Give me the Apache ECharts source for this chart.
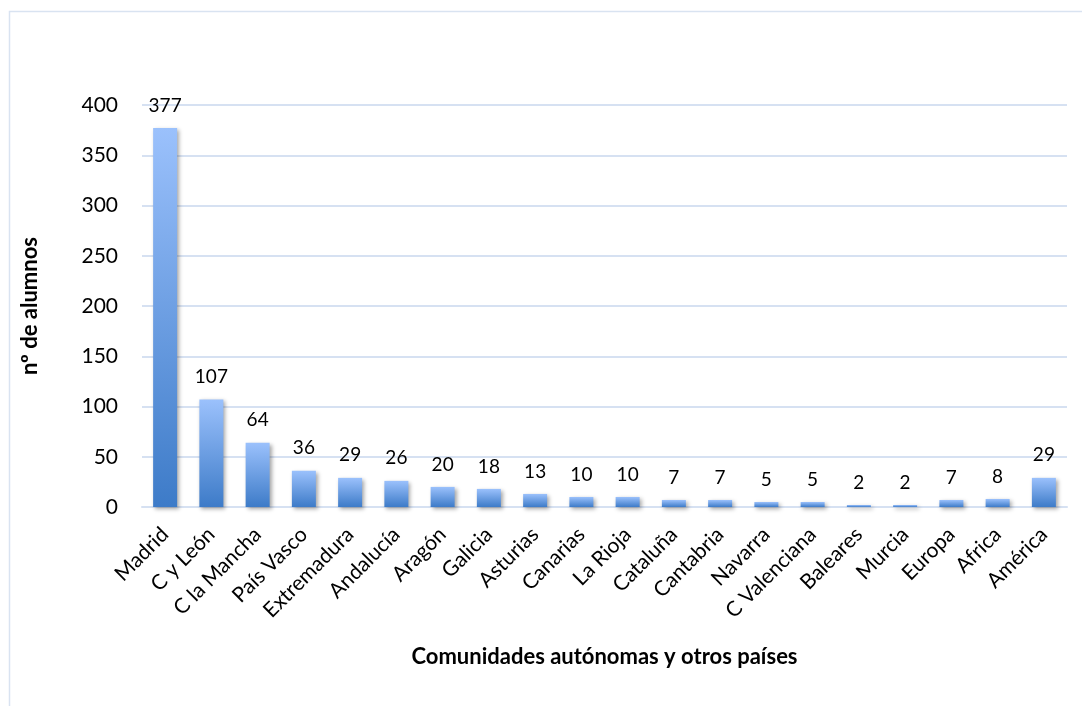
<!DOCTYPE html>
<html>
<head>
<meta charset="utf-8">
<script src="https://cdn.jsdelivr.net/npm/echarts@6/dist/echarts.min.js"></script>
<style>
html,body{margin:0;padding:0;background:#fff;}
#chart{width:1082px;height:706px;}
</style>
</head>
<body>
<div id="chart"></div>
<script>
const categories = ['Madrid','C y León','C la Mancha','País Vasco','Extremadura','Andalucía','Aragón','Galicia','Asturias','Canarias','La Rioja','Cataluña','Cantabria','Navarra','C Valenciana','Baleares','Murcia','Europa','Africa','América'];
const alumnos = [377,107,64,36,29,26,20,18,13,10,10,7,7,5,5,2,2,7,8,29];
const yTicks = {min:0, max:400, interval:50};

const FONT = 'Lato, "Open Sans", sans-serif';
const chart = echarts.init(document.getElementById('chart'));
chart.setOption({
  animation:false,
  backgroundColor:'#fff',
  graphic:[{
    type:'rect', silent:true,
    shape:{x:9.5,y:11.5,width:1200,height:800},
    style:{fill:'none',stroke:'#d9e3f1',lineWidth:1.5}
  }],
  grid:{left:142,right:15,top:105,bottom:199},
  xAxis:{
    type:'category', data:categories,
    name:'Comunidades autónomas y otros países',
    nameLocation:'middle', nameGap:139,
    nameTextStyle:{fontFamily:FONT,fontWeight:'bold',fontSize:22,color:'#000'},
    axisLine:{lineStyle:{color:'#d6e1f2',width:2}},
    axisTick:{show:false},
    axisLabel:{rotate:45,interval:0,fontFamily:FONT,fontSize:21,color:'#000',margin:24}
  },
  yAxis:{
    type:'value', min:yTicks.min, max:yTicks.max, interval:yTicks.interval,
    name:'nº de alumnos', nameLocation:'middle', nameGap:101, nameRotate:90,
    nameTextStyle:{fontFamily:FONT,fontWeight:'bold',fontSize:22,color:'#000'},
    axisLine:{show:false}, axisTick:{show:false},
    axisLabel:{fontFamily:FONT,fontSize:21,color:'#000',margin:24},
    splitLine:{lineStyle:{color:'#d6e1f2',width:2}}
  },
  series:[{
    type:'bar', data:alumnos, barWidth:24,
    itemStyle:{
      color:new echarts.graphic.LinearGradient(0,0,0,1,[
        {offset:0,color:'#9bc1fc'},
        {offset:1,color:'#3d7bc8'}
      ]),
      shadowColor:'rgba(0,0,0,0.35)', shadowBlur:4, shadowOffsetX:2, shadowOffsetY:2
    },
    label:{show:true,position:'top',distance:13,fontFamily:FONT,fontSize:19,color:'#000'}
  }]
});
</script>
</body>
</html>
